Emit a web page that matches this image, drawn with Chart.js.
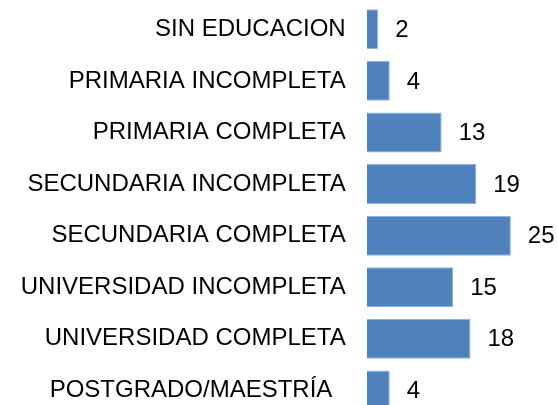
<!DOCTYPE html>
<html>
<head>
<meta charset="utf-8">
<script src="https://cdn.jsdelivr.net/npm/chart.js@4"></script>
<style>
  html, body { margin: 0; padding: 0; background: #fff; overflow: hidden; }
  #wrap { width: 557px; height: 420px; }
</style>
</head>
<body>
<div id="wrap"><canvas id="c" width="557" height="420"></canvas></div>
<script>
const categories = [
  "SIN EDUCACION",
  "PRIMARIA INCOMPLETA",
  "PRIMARIA COMPLETA",
  "SECUNDARIA INCOMPLETA",
  "SECUNDARIA COMPLETA",
  "UNIVERSIDAD INCOMPLETA",
  "UNIVERSIDAD COMPLETA",
  "POSTGRADO/MAESTRÍA  "
];
const values = [2, 4, 13, 19, 25, 15, 18, 4];

const FONT = '"Liberation Sans", Arial, sans-serif';

const valueLabels = {
  id: 'valueLabels',
  afterDatasetsDraw(chart) {
    const ctx = chart.ctx;
    const meta = chart.getDatasetMeta(0);
    ctx.save();
    ctx.font = '24px ' + FONT;
    ctx.fillStyle = '#000';
    ctx.textAlign = 'left';
    ctx.textBaseline = 'middle';
    meta.data.forEach((bar, i) => {
      ctx.fillText(String(values[i]), bar.x + 17, bar.y + 1);
    });
    ctx.restore();
  }
};

new Chart(document.getElementById('c'), {
  type: 'bar',
  data: {
    labels: categories,
    datasets: [{
      data: values,
      backgroundColor: '#4F81BD',
      borderColor: '#8FB0D8',
      borderWidth: 1,
      categoryPercentage: 1,
      barPercentage: 0.775
    }]
  },
  options: {
    indexAxis: 'y',
    responsive: false,
    animation: false,
    devicePixelRatio: 1,
    layout: { padding: { top: 3.5, bottom: 3.8, left: 0, right: 0 } },
    plugins: { legend: { display: false }, tooltip: { enabled: false } },
    scales: {
      x: { display: false, min: 0, max: 33 },
      y: {
        grid: { display: false, drawTicks: false },
        border: { display: false },
        ticks: {
          autoSkip: false,
          padding: 21,
          color: '#000',
          font: { family: FONT, size: 24 }
        },
        afterFit(scale) { scale.width = 366.7; scale.paddingTop = 0; scale.paddingBottom = 0; }
      }
    }
  },
  plugins: [valueLabels]
});
</script>
</body>
</html>
